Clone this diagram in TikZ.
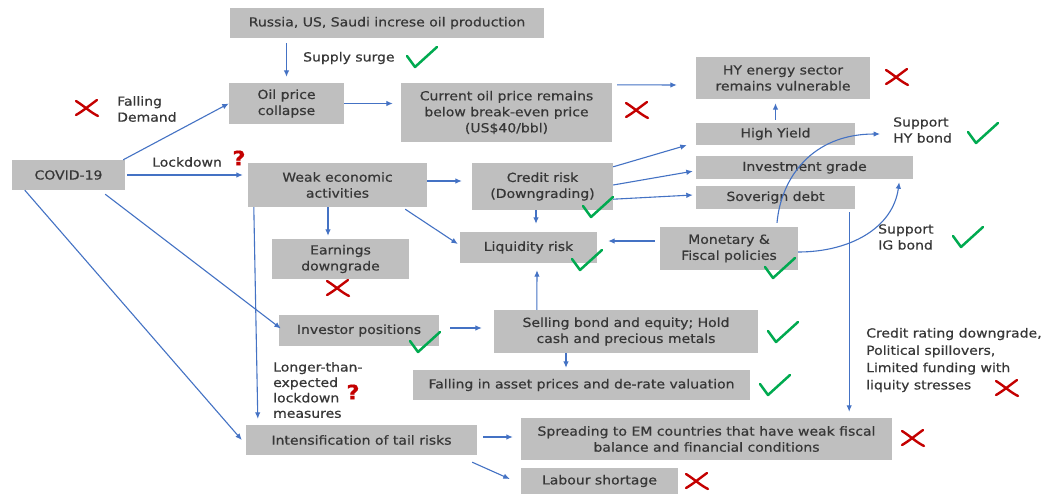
\documentclass[tikz,border=0pt]{standalone}
\usepackage{fontspec}
\setmainfont{DejaVu Sans}[FakeStretch=1.12, FakeBold=0.6]
\usetikzlibrary{arrows.meta,calc}
\definecolor{boxgray}{RGB}{191,191,191}
\definecolor{txt}{RGB}{55,55,55}
\definecolor{arrblue}{RGB}{68,114,196}
\definecolor{chkgreen}{RGB}{0,170,80}
\definecolor{xred}{RGB}{196,0,0}
\newcommand\bx[6]{\node[bx, minimum width=#4pt, minimum height=#5pt] (#1) at (#2,#3) {#6};}
\begin{document}
\begin{tikzpicture}[x=1pt,y=-1pt, font=\fontsize{12.5}{16}\selectfont, text=txt,
 bx/.style={fill=boxgray, align=center, inner sep=0pt},
 lbl/.style={anchor=west, align=left, inner sep=0pt},
 arr/.style={draw=arrblue, line width=1.1pt, -{Latex[length=6.5pt,width=5.5pt]}},
 cur/.style={draw=arrblue, line width=1.1pt, -{Latex[length=6.5pt,width=5.5pt]}},
 chk/.pic={\draw[chkgreen, line width=2.5pt, line cap=round, line join=round] (-15,-1) -- (-7,10) -- (15,-10);},
 crs/.pic={\draw[xred, line width=2.4pt, line cap=round] (-11,-7) .. controls (-3,-2) and (3,4) .. (11,8);
           \draw[xred, line width=2.4pt, line cap=round] (10,-8) .. controls (3,-3) and (-4,3) .. (-11,7);},
 qm/.style={text=xred, font=\bfseries\fontsize{20}{20}\selectfont, inner sep=0pt}]
\fill[white] (0,0) rectangle (1057,495);
\useasboundingbox (0,0) rectangle (1057,495);

% boxes
\bx{rus}{387}{23}{314}{30}{Russia, US, Saudi increse oil production}
\bx{oil}{286.5}{103.5}{115}{41}{Oil price\\collapse}
\bx{cur}{506.5}{112.5}{211}{59}{Current oil price remains\\below break-even price\\(US\$40/bbl)}
\bx{hye}{783}{78}{174}{42}{HY energy sector\\remains vulnerable}
\bx{covid}{68.5}{175}{113}{30}{COVID-19}
\bx{weak}{337.5}{185}{179}{44}{Weak economic\\activities}
\bx{cred}{542.5}{186.5}{141}{47}{Credit risk\\(Downgrading)}
\bx{hy}{775.5}{134}{159}{22}{High Yield}
\bx{ig}{804.5}{167.5}{217}{23}{Investment grade}
\bx{sov}{775.5}{197.5}{159}{23}{Soverign debt}
\bx{earn}{340.5}{259}{137}{40}{Earnings\\downgrade}
\bx{liq}{528.5}{247.5}{137}{31}{Liquidity risk}
\bx{mon}{729}{248.5}{138}{43}{Monetary \&\\Fiscal policies}
\bx{inv}{359}{330.5}{160}{31}{Investor positions}
\bx{sell}{626}{331.5}{264}{43}{Selling bond and equity; Hold\\cash and precious metals}
\bx{fall}{581.5}{385}{337}{30}{Falling in asset prices and de-rate valuation}
\bx{int}{361.5}{440}{231}{30}{Intensification of tail risks}
\bx{spr}{706.5}{439}{371}{42}{Spreading to EM countries that have weak fiscal\\balance and financial conditions}
\bx{lab}{599.5}{481}{157}{26}{Labour shortage}

% labels
\node[lbl] (l1) at (303,58) {Supply surge};
\node[lbl] (l2) at (117,109) {Falling\\Demand};
\node[lbl] (l3) at (152,162) {Lockdown};
\node[lbl] (l4) at (893,130) {Support\\HY bond};
\node[lbl] (l5) at (878,237) {Support\\IG bond};
\node[lbl, font=\fontsize{12.5}{17.3}\selectfont] (l6) at (866,360) {Credit rating downgrade,\\Political spillovers,\\Limited funding with\\liquity stresses};
\node[lbl, font=\fontsize{12.5}{15.4}\selectfont] (l7) at (273,390) {Longer-than-\\expected\\lockdown\\measures};
\node[qm] (q1) at (239,158) {?};
\node[qm] (q2) at (353,392) {?};

% connectors
\draw[arr, shorten <=5pt, shorten >=6pt] (oil.north |- rus.south) -- (oil.north);
\draw[arr] ($(covid.north east)+(-2,0)$) -- (oil.west);
\draw[arr, shorten <=2pt, shorten >=5pt] (covid.east) -- (covid.east -| weak.west);
\draw[arr, shorten >=8pt] (oil.east) -- (oil.east -| cur.west);
\draw[arr] ($(cur.north east)+(5,2)$) -- ($(hye.west)+(-19,7)$);
\draw[arr, shorten <=3pt, shorten >=4pt] (hy.north) -- (hy.north |- hye.south);
\draw[arr, shorten >=10pt] ($(weak.east)+(0,-4)$) -- ($(cred.west)+(0,-5.5)$);
\draw[arr] ($(cred.north east)+(0,4)$) -- ($(hy.south west)+(-9,0)$);
\draw[arr] ($(cred.east)+(0,-1.5)$) -- ($(ig.south west)+(-3,-8)$);
\draw[arr] ($(cred.south east)+(0,-11)$) -- ($(sov.west)+(-3,-2.5)$);
\draw[arr, shorten >=8pt] ($(cred.south)+(-6.5,0)$) -- ($(liq.north)+(7.5,0)$);
\draw[arr] ($(weak.south east)+(-22,2)$) -- ($(liq.west)+(-2,-3.5)$);
\draw[arr] ($(weak.south)+(-9.5,0)$) -- ($(earn.north)+(-12.5,-3)$);
\draw[arr] ($(weak.south west)+(6,0)$) -- ($(int.north west)+(12,-6)$);
\draw[arr] ($(covid.south east)+(-20,4)$) -- ($(inv.west)+(2,-2)$);
\draw[arr] ($(covid.south west)+(13,0)$) -- ($(int.west)+(-4,0)$);
\draw[arr] ($(mon.west)+(-5,-7.5)$) -- ($(liq.east)+(11,-6.5)$);
\coordinate (shy) at (880,134);
\draw[cur] ($(mon.north)+(48,-4)$) .. controls (781,178) and (812,134) .. (shy);
\draw[cur] (mon.east |- 0,252) .. controls (850,252) and (893,228) .. ($(ig.south east)+(-14,3)$);
\draw[arr] ($(sov.south east)+(-6,3)$) -- ($(spr.north east)+(-43,-6)$);
\draw[arr] ($(sell.north west)+(43,0)$) -- ($(liq.south)+(8.5,7)$);
\draw[arr] ($(inv.east)+(11,-2.5)$) -- ($(sell.west)+(-12,-3.5)$);
\draw[arr] ($(sell.south)+(-60,0)$) -- ($(fall.north)+(-15.5,-2)$);
\draw[arr] ($(int.east)+(6,-3)$) -- ($(spr.west)+(-8,-2)$);
\draw[arr] ($(int.south east)+(-5,7)$) -- ($(lab.west)+(-11,-2)$);

% check marks
\pic at (422,57) {chk};
\pic at (598,207) {chk};
\pic at (587,260) {chk};
\pic at (780,268) {chk};
\pic at (983,133) {chk};
\pic at (968,237) {chk};
\pic at (425,342) {chk};
\pic at (783,332) {chk};
\pic at (775,385) {chk};
% crosses
\pic at (87,108) {crs};
\pic at (637,110) {crs};
\pic at (897,77) {crs};
\pic at (338,288) {crs};
\pic at (1007,388) {crs};
\pic at (913,438) {crs};
\pic at (697,481) {crs};
\end{tikzpicture}
\end{document}
